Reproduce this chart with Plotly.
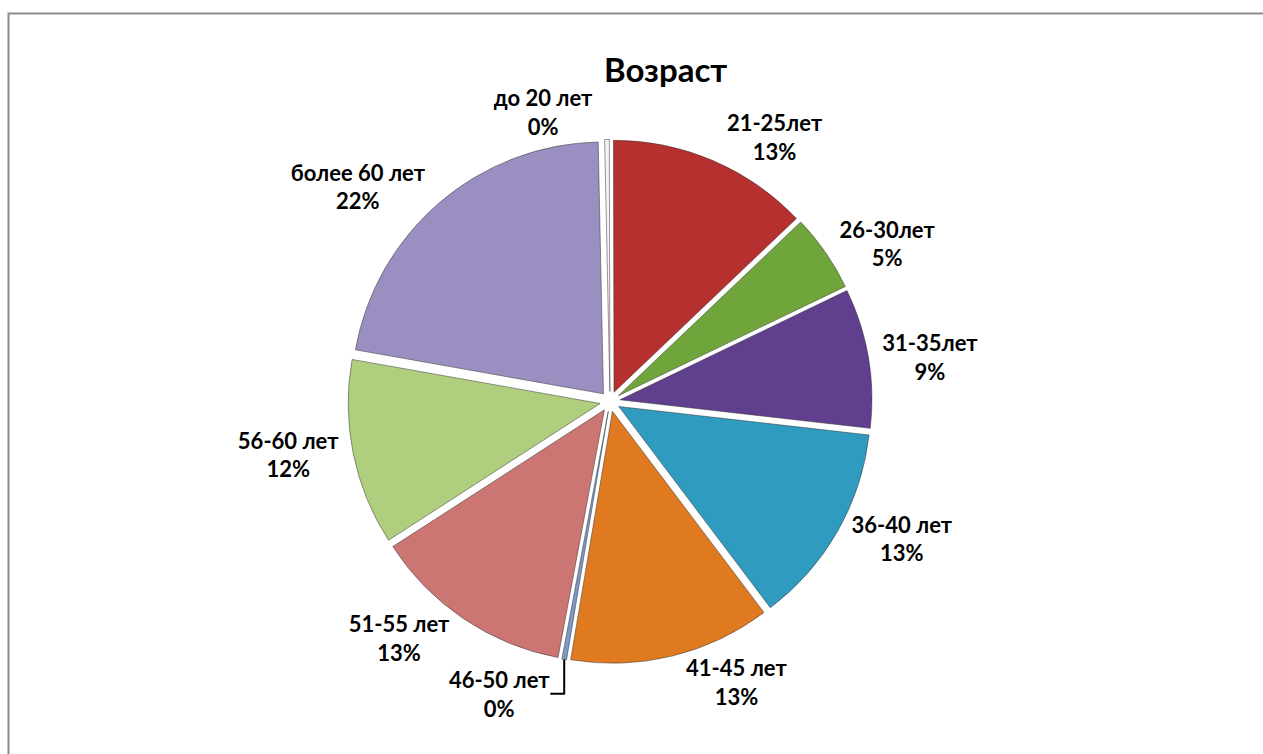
import plotly.graph_objects as go

labels = ["до 20 лет", "21-25лет", "26-30лет", "31-35лет", "36-40 лет",
          "41-45 лет", "46-50 лет", "51-55 лет", "56-60 лет", "более 60 лет"]
values = [0.3, 13, 5, 9, 13, 13, 0.3, 13, 12, 22]
colors = ["#F4F4F4", "#B5302E", "#6FA53B", "#5F3F8E", "#2E9BBF",
          "#E07A21", "#7F97C4", "#CC7673", "#AFCF7F", "#9B8EC0"]

fig = go.Figure(go.Pie(
    labels=labels,
    values=values,
    sort=False,
    direction="clockwise",
    rotation=-1.2,
    pull=0.04,
    marker=dict(colors=colors, line=dict(color="#333333", width=0.5)),
    textposition="outside",
    texttemplate="%{label}<br>%{percent:.0%}",
    outsidetextfont=dict(family="Lato", size=22, color="black", weight="bold"),
    showlegend=False,
    domain=dict(x=[0.083, 0.883], y=[0.12, 0.815]),
))

fig.update_layout(
    width=1263, height=754,
    margin=dict(l=0, r=0, t=0, b=0, autoexpand=False),
    paper_bgcolor="white",
    title=dict(text="<b>Возраст</b>", x=0.527, xanchor="center", y=0.907, yanchor="middle",
               font=dict(family="Lato", size=33, color="black")),
    shapes=[dict(type="rect", xref="paper", yref="paper",
                 x0=8.5/1263, x1=1.05, y0=-0.05, y1=1-13.5/754,
                 line=dict(color="#8C8C8C", width=2))],
)

fig.write_html("out.html",
               config={"displayModeBar": False},
               post_script="document.body.style.margin='0';document.body.style.overflow='hidden';")
